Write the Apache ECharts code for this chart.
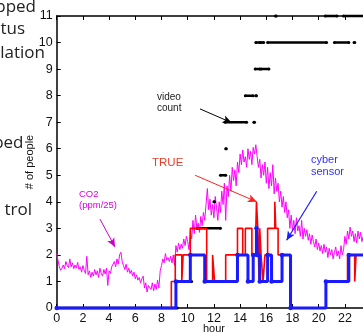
<!DOCTYPE html>
<html><head><meta charset="utf-8">
<script src="https://cdn.jsdelivr.net/npm/echarts@6/dist/echarts.min.js"></script>
<style>html,body{margin:0;padding:0;background:#fff}#c{width:363px;height:334px}</style>
</head><body><div id="c"></div>
<script>
// x tick labels (hours) and y tick labels (# of people)
const xTicks = [0,2,4,6,8,10,12,14,16,18,20,22,24];
const yTicks = [0,1,2,3,4,5,6,7,8,9,10,11];

// CO2 (ppm/25), sampled every 0.1 hour starting at hour 0
const co2Step = 0.1;
const co2Values = [
2.05,1.8,1.55,1.42,1.5,1.62,1.48,1.75,1.6,1.52,
1.85,1.55,1.7,1.48,1.62,1.5,1.72,1.45,1.55,1.35,
1.6,1.42,1.3,1.95,1.25,1.4,1.15,1.35,1.2,1.45,
1.25,1.4,1.15,1.5,1.3,1.2,1.45,1.28,1.5,0.85,
1.4,1.3,1.55,1.6,1.75,1.55,1.85,1.65,2.0,2.1,
1.75,1.6,1.45,1.65,1.35,1.5,1.3,1.42,1.2,1.35,
1.1,1.25,1.05,1.15,0.95,1.1,1.2,0.75,0.95,0.6,
0.85,0.9,0.7,0.95,0.65,0.9,0.7,1.05,0.75,1.4,
1.6,1.85,1.7,2.05,1.8,1.9,1.75,1.95,1.7,2.0,
1.6,2.35,2.1,2.45,2.2,2.4,2.25,2.6,2.35,2.7,
2.5,2.2,2.9,2.6,3.3,2.8,3.5,3.0,3.2,2.85,
3.45,3.1,3.6,3.3,3.9,4.5,3.7,4.1,3.5,3.9,
3.4,4.2,3.8,3.3,4.0,3.6,4.4,3.9,4.7,3.3,
4.6,4.2,5.0,4.4,5.3,4.8,5.2,4.6,5.5,5.1,
5.8,5.4,5.95,5.5,5.7,5.3,6.0,5.6,5.9,5.4,
6.05,5.8,6.15,5.7,5.3,5.6,4.9,5.4,5.0,5.5,
4.7,5.3,4.5,5.1,4.6,5.4,4.3,4.9,4.4,4.7,
4.0,4.4,3.8,4.2,3.6,4.0,3.4,3.7,3.0,3.5,
2.9,3.3,2.8,3.4,2.9,3.1,2.7,3.3,2.6,3.0,
2.7,2.95,2.55,2.8,2.4,2.75,2.5,2.3,2.6,2.2,
2.45,2.15,2.35,2.05,2.4,2.1,2.3,1.9,2.25,2.0,
2.2,1.85,2.1,2.3,1.95,2.15,1.85,2.35,2.0,2.2,
2.7,2.4,2.9,2.6,3.05,2.7,2.9,2.5,2.8,2.45,
2.9,2.6,2.85,2.5,2.7,2.55,2.8,2.5,2.7,2.6,2.65
];

// TRUE count: [hour of change, new value]
const trueSteps = [
[0,0],[8.75,1],[9.05,2],[9.55,1],[9.65,2],[10.2,3],[11.45,1],[11.9,2],[12.05,1],[12.9,2],
[13.8,3],[14.2,2],[14.4,3],[14.9,2],[15.2,3],[15.25,4],[15.35,3],[15.45,1],[15.5,3],[15.6,2],
[15.75,1],[15.9,2],[16.1,3],[16.65,4],[16.72,3],[16.9,2],[17.85,0],[20.55,1],[22.2,2],
[22.75,1],[22.85,2],[24,2]
];

// cyber sensor count: [hour of change, new value]
const cyberSteps = [
[0,0],[9.1,1],[10.2,2],[11.3,1],[13.8,2],[14.6,1],[15.0,2],[15.25,3],[15.3,2],[15.5,1],
[16.1,2],[16.4,1],[17.2,2],[17.85,0],[20.55,1],[22.3,2],[24,2]
];

// video count: [start hour, end hour, count]
const videoSegments = [
[0,9.2,0],[9.2,10.3,1],[10.7,12.5,3],[12.0,12.05,4],[12.5,12.9,5],[12.9,12.95,6],
[12.85,14.5,7],[15.05,15.1,7],[14.4,15.0,8],[15.2,15.25,8],[15.15,15.5,9],[15.6,16.2,9],
[15.2,15.5,10],[15.6,15.8,10],[16.1,20.6,10],[21.2,22.3,10],[22.7,22.75,10],
[16.7,16.75,11],[20.5,21.4,11],[21.9,24,11]
];

const co2Data = co2Values.map((v,i)=>[+(i*co2Step).toFixed(2), v]);
const videoData = [];
videoSegments.forEach(s=>{ videoData.push([s[0],s[2]]); videoData.push([s[1],s[2]]); videoData.push(null); });

const chart = echarts.init(document.getElementById('c'), null, {renderer:'canvas'});
const axisFont = {fontFamily:'Liberation Sans, Arial, sans-serif', fontSize:12.5, color:'#111'};
chart.setOption({
  animation:false,
  grid:{left:56.7, top:16, width:314.4, bottom:26, containLabel:false, outerBoundsMode:'none'},
  xAxis:[{
    type:'value', min:0, max:24, interval:2, position:'bottom',
    name:'hour', nameLocation:'middle', nameGap:15, nameMoveOverlap:false,
    nameTextStyle:{fontFamily:'Liberation Sans, Arial, sans-serif', fontSize:11, color:'#111'},
    axisLine:{show:true, onZero:false, lineStyle:{color:'#000', width:1.5}},
    axisTick:{show:true, inside:true, length:4, lineStyle:{color:'#000'}},
    axisLabel:Object.assign({margin:4, formatter:v=>xTicks.includes(v)?String(v):''}, axisFont),
    splitLine:{show:false}
  },{
    type:'value', min:0, max:24, interval:2, position:'top',
    axisLine:{show:true, onZero:false, lineStyle:{color:'#000', width:1.5}},
    axisTick:{show:true, inside:true, length:4, lineStyle:{color:'#000'}},
    axisLabel:{show:false}, splitLine:{show:false}
  }],
  yAxis:[{
    type:'value', min:0, max:11, interval:1, position:'left',
    name:'# of people', nameLocation:'middle', nameGap:21, nameRotate:90, nameMoveOverlap:false,
    nameTextStyle:{fontFamily:'Liberation Sans, Arial, sans-serif', fontSize:11, color:'#111'},
    axisLine:{show:true, onZero:false, lineStyle:{color:'#000', width:1.5}},
    axisTick:{show:true, inside:true, length:4, lineStyle:{color:'#000'}},
    axisLabel:Object.assign({margin:4, formatter:v=>yTicks.includes(v)?String(v):''}, axisFont),
    splitLine:{show:false}
  },{
    type:'value', min:0, max:11, interval:1, position:'right',
    axisLine:{show:true, onZero:false, lineStyle:{color:'#000', width:1.5}},
    axisTick:{show:false}, axisLabel:{show:false}, splitLine:{show:false}
  }],
  series:[
    {type:'line', name:'CO2', data:co2Data, showSymbol:false, clip:false,
     lineStyle:{color:'#ff00ff', width:1}, z:1,
     markLine:{silent:true, symbol:['none','arrow'], symbolSize:[6,9], label:{show:false},
       lineStyle:{color:'#cc00cc', width:1, type:'solid'},
       data:[[{coord:[3.3,3.35]},{coord:[4.45,2.3]}]]}},
    {type:'line', name:'video count', data:videoData, connectNulls:false, clip:false,
     showSymbol:true, symbol:'circle', symbolSize:3, itemStyle:{color:'#000'},
     lineStyle:{color:'#000', width:2.5}, z:2,
     markLine:{silent:true, symbol:['none','arrow'], symbolSize:[6,9], label:{show:false},
       lineStyle:{color:'#000', width:1, type:'solid'},
       data:[[{coord:[10.94,7.5]},{coord:[13.36,6.98]}]]}},
    {type:'line', name:'TRUE', step:'end', data:trueSteps, showSymbol:false, clip:false,
     lineStyle:{color:'#ff0000', width:1.6}, z:3,
     markLine:{silent:true, symbol:['none','arrow'], symbolSize:[6,9], label:{show:false},
       lineStyle:{color:'#ff2020', width:1, type:'solid'},
       data:[[{coord:[10.57,5.0]},{coord:[15.27,4.0]}]]}},
    {type:'line', name:'cyber sensor', step:'end', data:cyberSteps, clip:false,
     showSymbol:true, symbol:'circle', symbolSize:4.5, itemStyle:{color:'#1a1aff'},
     lineStyle:{color:'#1a1aff', width:3}, z:4,
     markLine:{silent:true, symbol:['none','arrow'], symbolSize:[6,9], label:{show:false},
       lineStyle:{color:'#1a1aff', width:1.2, type:'solid'},
       data:[[{coord:[19.85,4.4]},{coord:[17.55,2.55]}]]}}
  ],
  graphic:[
    {type:'text', left:157, top:92, style:{text:'video\ncount', font:'10px "Liberation Sans", Arial, sans-serif', fill:'#222', lineHeight:11}},
    {type:'text', left:152, top:157, style:{text:'TRUE', font:'11.5px "Liberation Sans", Arial, sans-serif', fill:'#e8402a'}},
    {type:'text', left:311, top:154, style:{text:'cyber\nsensor', font:'11px "Liberation Sans", Arial, sans-serif', fill:'#3030ff', lineHeight:12}},
    {type:'text', left:79, top:189, style:{text:'CO2\n(ppm/25)', font:'9.5px "Liberation Sans", Arial, sans-serif', fill:'#e000e0', lineHeight:11}},
    {type:'text', x:36, y:7, style:{text:'pped', font:'17px "Open Sans", sans-serif', fill:'#222', align:'right', verticalAlign:'middle'}},
    {type:'text', x:25, y:29, style:{text:'tus', font:'17px "Open Sans", sans-serif', fill:'#222', align:'right', verticalAlign:'middle'}},
    {type:'text', x:45, y:53, style:{text:'lation', font:'17px "Open Sans", sans-serif', fill:'#222', align:'right', verticalAlign:'middle'}},
    {type:'text', x:23.5, y:143, style:{text:'ped', font:'17px "Open Sans", sans-serif', fill:'#222', align:'right', verticalAlign:'middle'}},
    {type:'text', x:32, y:210, style:{text:'trol', font:'17px "Open Sans", sans-serif', fill:'#222', align:'right', verticalAlign:'middle'}}
  ]
});
</script></body></html>
